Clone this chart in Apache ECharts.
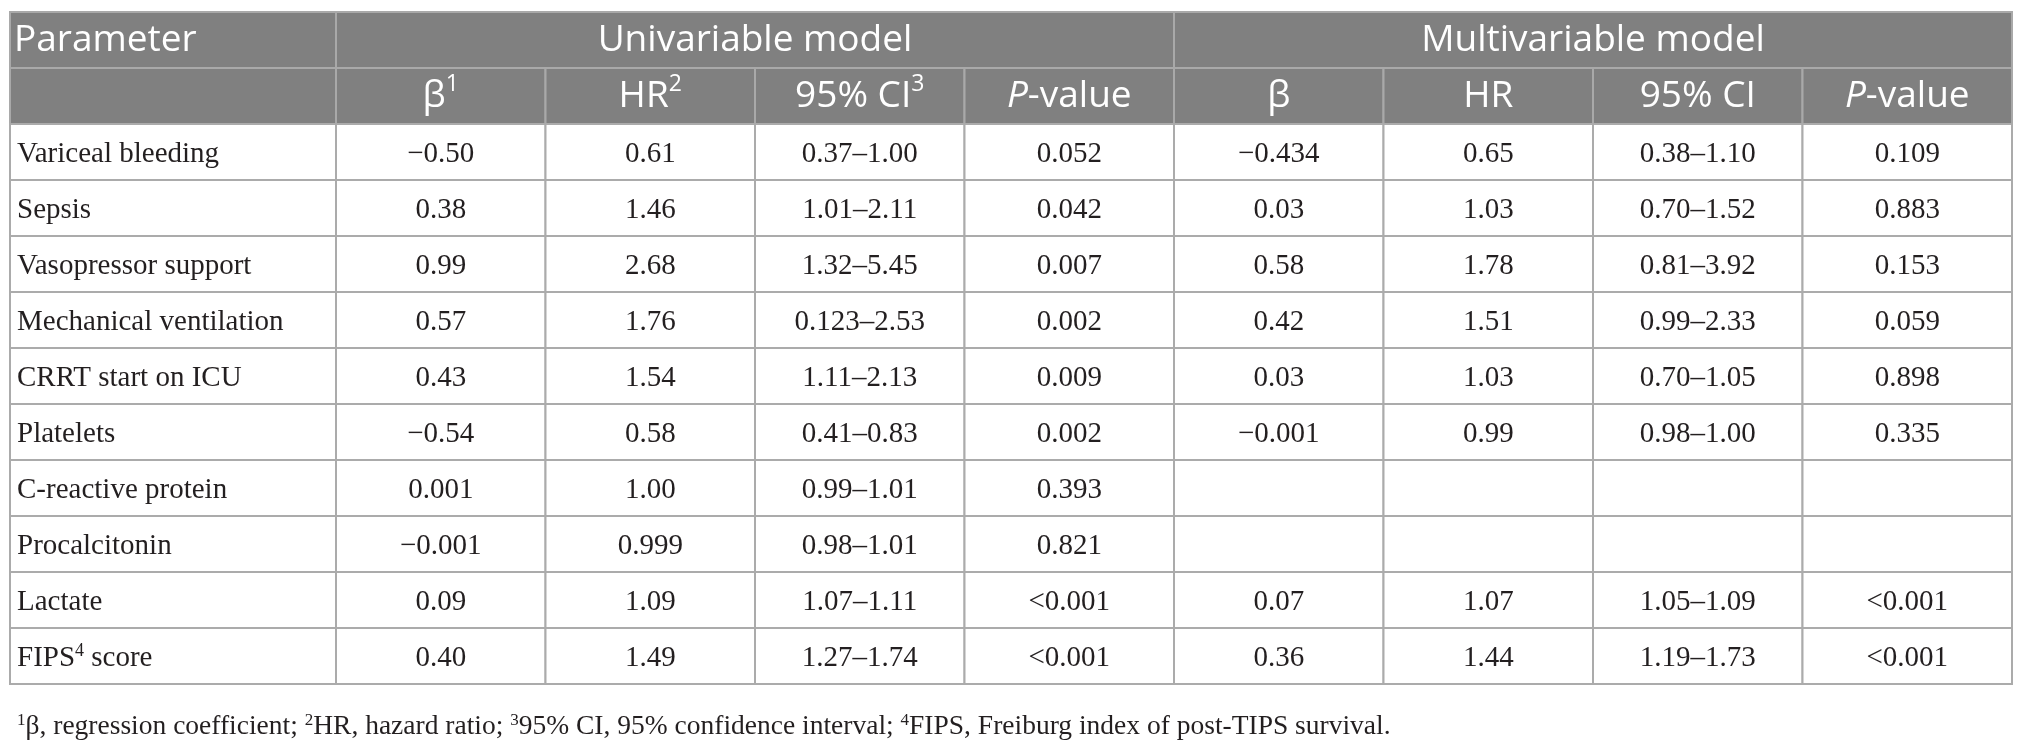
<!DOCTYPE html>
<html>
<head>
<meta charset="utf-8">
<title>Cox regression table</title>
<style>
  html, body { margin: 0; padding: 0; background: #fff; }
  #container { width: 2025px; height: 749px; }
</style>
</head>
<body>
<div id="container"></div>
<script src="https://cdn.jsdelivr.net/npm/echarts@6/dist/echarts.min.js"></script>
<script>
// table content
var headTop = ['Parameter', 'Univariable model', 'Multivariable model'];
var headCols = ['β{sup|1}', 'HR{sup|2}', '95% CI{sup|3}', '{it|P}-value', 'β', 'HR', '95% CI', '{it|P}-value'];
var parameters = ['Variceal bleeding', 'Sepsis', 'Vasopressor support', 'Mechanical ventilation',
  'CRRT start on ICU', 'Platelets', 'C-reactive protein', 'Procalcitonin', 'Lactate', 'FIPS{sup|4} score'];
var uniBeta = ['−0.50', '0.38', '0.99', '0.57', '0.43', '−0.54', '0.001', '−0.001', '0.09', '0.40'];
var uniHR = ['0.61', '1.46', '2.68', '1.76', '1.54', '0.58', '1.00', '0.999', '1.09', '1.49'];
var uniCI = ['0.37–1.00', '1.01–2.11', '1.32–5.45', '0.123–2.53', '1.11–2.13', '0.41–0.83', '0.99–1.01', '0.98–1.01', '1.07–1.11', '1.27–1.74'];
var uniP = ['0.052', '0.042', '0.007', '0.002', '0.009', '0.002', '0.393', '0.821', '<0.001', '<0.001'];
var multiBeta = ['−0.434', '0.03', '0.58', '0.42', '0.03', '−0.001', '', '', '0.07', '0.36'];
var multiHR = ['0.65', '1.03', '1.78', '1.51', '1.03', '0.99', '', '', '1.07', '1.44'];
var multiCI = ['0.38–1.10', '0.70–1.52', '0.81–3.92', '0.99–2.33', '0.70–1.05', '0.98–1.00', '', '', '1.05–1.09', '1.19–1.73'];
var multiP = ['0.109', '0.883', '0.153', '0.059', '0.898', '0.335', '', '', '<0.001', '<0.001'];
var footnote = '{s|1}β, regression coefficient; {s|2}HR, hazard ratio; {s|3}95% CI, 95% confidence interval; {s|4}FIPS, Freiburg index of post-TIPS survival.';

var rowKeys = ['h1', 'h2'].concat(parameters.map(function (p, i) { return 'r' + i; }));
var valueCols = [uniBeta, uniHR, uniCI, uniP, multiBeta, multiHR, multiCI, multiP];

var HEAD_BG = '#808080';
var HEAD_LINE = '#a9a9a9';
var BODY_LINE = '#ababab';
var headFont = '"Open Sans", "Noto Sans", sans-serif';
var bodyFont = '"Liberation Serif", "DejaVu Serif", serif';

// cells of the left (parameter) column
var leftCells = [
  { col: 0, row: 0, span: 1, text: headTop[0], head: true, align: 'left' },
  { col: 0, row: 1, span: 1, text: '', head: true, align: 'left' }
];
parameters.forEach(function (p, i) {
  leftCells.push({ col: 0, row: i + 2, span: 1, text: p, head: false, align: 'left' });
});

// cells of the value columns
var rightCells = [
  { col: 0, row: 0, span: 4, text: headTop[1], head: true, align: 'center' },
  { col: 4, row: 0, span: 4, text: headTop[2], head: true, align: 'center' }
];
headCols.forEach(function (h, c) {
  rightCells.push({ col: c, row: 1, span: 1, text: h, head: true, align: 'center' });
});
valueCols.forEach(function (arr, c) {
  arr.forEach(function (v, i) {
    rightCells.push({ col: c, row: i + 2, span: 1, text: v, head: false, align: 'center' });
  });
});

function makeRender(cells) {
  return function (params, api) {
    var cell = cells[params.dataIndex];
    var size = api.size([1, 1]);
    var p0 = api.coord([api.value(0), api.value(1)]);
    var p1 = api.coord([api.value(0) + api.value(2) - 1, api.value(1)]);
    var x0 = p0[0] - size[0] / 2;
    var x1 = p1[0] + size[0] / 2;
    var y0 = p0[1] - size[1] / 2;
    var h = size[1];
    var tx = cell.align === 'left' ? x0 + (cell.head ? 4 : 7) : (x0 + x1) / 2;
    var textStyle = cell.head ? {
      text: cell.text,
      fill: '#ffffff',
      fontSize: 37,
      fontFamily: headFont,
      align: cell.align,
      verticalAlign: 'middle',
      rich: {
        sup: { fontSize: 23, fontFamily: headFont, fill: '#ffffff', verticalAlign: 'top', lineHeight: 46 },
        it: { fontSize: 37, fontFamily: headFont, fill: '#ffffff', fontStyle: 'italic', lineHeight: 46 }
      }
    } : {
      text: cell.text,
      fill: '#231f20',
      fontSize: 29,
      fontFamily: bodyFont,
      align: cell.align,
      verticalAlign: 'middle',
      rich: {
        sup: { fontSize: 18, fontFamily: bodyFont, fill: '#231f20', verticalAlign: 'top', lineHeight: 31 }
      }
    };
    return {
      type: 'group',
      children: [
        {
          type: 'rect',
          shape: { x: x0, y: y0, width: x1 - x0, height: h },
          style: { fill: cell.head ? HEAD_BG : '#ffffff', stroke: cell.head ? HEAD_LINE : BODY_LINE, lineWidth: 2 }
        },
        {
          type: 'text',
          x: tx,
          y: y0 + h / 2 + (cell.head ? 0 : 2),
          style: textStyle
        }
      ]
    };
  };
}

var hiddenAxis = { show: false };
var chart = echarts.init(document.getElementById('container'), null, { renderer: 'canvas' });

var option = {
  backgroundColor: '#ffffff',
  animation: false,
  title: {
    text: footnote,
    left: 12,
    top: 707,
    textStyle: {
      fontFamily: bodyFont,
      fontSize: 27.5,
      fontWeight: 'normal',
      color: '#231f20',
      lineHeight: 30,
      rich: {
        s: { fontFamily: bodyFont, fontSize: 17, color: '#231f20', verticalAlign: 'top', lineHeight: 30 }
      }
    }
  },
  grid: [
    { left: 10, top: 12, width: 326, height: 672 },
    { left: 336, top: 12, width: 1676, height: 672 }
  ],
  xAxis: [
    Object.assign({ type: 'category', gridIndex: 0, data: ['param'] }, hiddenAxis),
    Object.assign({ type: 'category', gridIndex: 1, data: headCols }, hiddenAxis)
  ],
  yAxis: [
    Object.assign({ type: 'category', gridIndex: 0, data: rowKeys, inverse: true }, hiddenAxis),
    Object.assign({ type: 'category', gridIndex: 1, data: rowKeys, inverse: true }, hiddenAxis)
  ],
  series: [
    {
      type: 'custom',
      xAxisIndex: 0,
      yAxisIndex: 0,
      renderItem: makeRender(leftCells),
      data: leftCells.map(function (c) { return [c.col, c.row, c.span]; }),
      silent: true
    },
    {
      type: 'custom',
      xAxisIndex: 1,
      yAxisIndex: 1,
      renderItem: makeRender(rightCells),
      data: rightCells.map(function (c) { return [c.col, c.row, c.span]; }),
      silent: true
    }
  ]
};

chart.setOption(option);
</script>
</body>
</html>
